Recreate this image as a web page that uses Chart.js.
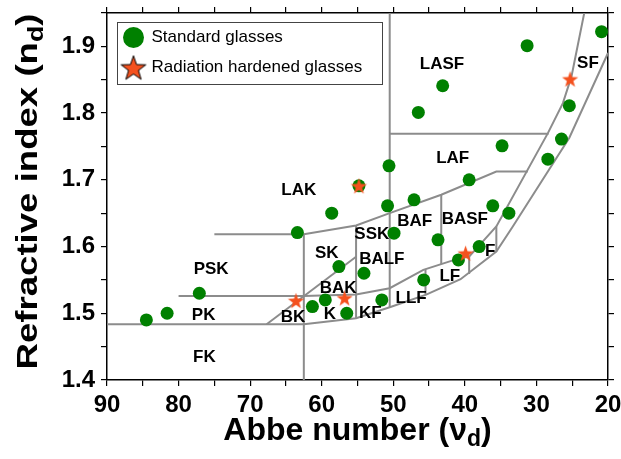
<!DOCTYPE html>
<html>
<head>
<meta charset="utf-8">
<script src="https://cdn.jsdelivr.net/npm/chart.js@4.4.1/dist/chart.umd.min.js"></script>
<style>
  html, body { margin: 0; padding: 0; background: #fff; }
  #wrap { width: 621px; height: 459px; }
</style>
</head>
<body>
<div id="wrap"><canvas id="abbe" width="621" height="459"></canvas></div>
<script>
// Standard glasses: Abbe number and refractive index
const standardAbbe  = [84.5, 81.6, 77.1, 63.4, 58.6, 57.6, 61.3, 59.5, 56.5, 54.8, 50.8, 47.1, 39.4, 49.9, 43.75, 36.1, 33.85, 38.0, 40.9, 45.75, 54.1, 51.6, 31.3, 20.9, 43.1, 46.5, 25.4, 26.5, 28.4, 34.8, 50.6];
const standardIndex = [1.490, 1.500, 1.530, 1.621, 1.650, 1.570, 1.510, 1.520, 1.500, 1.691, 1.661, 1.670, 1.700, 1.620, 1.610, 1.661, 1.650, 1.600, 1.580, 1.550, 1.560, 1.520, 1.901, 1.922, 1.841, 1.801, 1.811, 1.761, 1.731, 1.751, 1.721];

// Radiation hardened glasses
const hardenedAbbe  = [63.6, 56.8, 54.8, 39.9, 25.3];
const hardenedIndex = [1.519, 1.523, 1.691, 1.590, 1.851];

// Glass family names and where they sit on the map
const regionNames = ['LASF', 'SF', 'LAF', 'LAK', 'PSK', 'PK', 'FK', 'BK', 'K', 'BAK', 'SK', 'SSK', 'BALF', 'BAF', 'BASF', 'LF', 'F', 'LLF', 'KF'];
const regionAbbe  = [43.2, 22.8, 41.7, 63.2, 75.45, 76.5, 76.4, 64.0, 58.85, 57.7, 59.3, 53.0, 51.6, 47.0, 40.0, 42.1, 36.45, 47.5, 53.2];
const regionIndex = [1.8725, 1.875, 1.7326, 1.685, 1.566, 1.4975, 1.434, 1.494, 1.4986, 1.5376, 1.590, 1.6176, 1.5815, 1.6375, 1.6415, 1.555, 1.5925, 1.5226, 1.500];

// Family boundaries as [Abbe number, refractive index] vertices
const boundaryLines = [
  [[90, 1.4836], [62.5, 1.4836], [55.2, 1.4926], [50.5, 1.509], [45.4, 1.528], [40.6, 1.551], [35.6, 1.5925], [33.3, 1.630], [25.4, 1.763], [20, 1.890]],
  [[80, 1.526], [62.5, 1.526], [55.2, 1.5283], [50.5, 1.5376], [45.8, 1.565], [40.7, 1.5826], [39.4, 1.585], [35.6, 1.630], [28.4, 1.770], [26.3, 1.815], [25.1, 1.855], [23.3, 1.951]],
  [[67.7, 1.4836], [55.2, 1.5846]],
  [[75, 1.6186], [62.5, 1.6186], [55.2, 1.6315], [50.5, 1.650], [43.3, 1.6776], [35.6, 1.7125], [31.2, 1.7125]],
  [[50.5, 1.769], [28.3, 1.769]],
  [[62.5, 1.6186], [62.5, 1.4]],
  [[55.2, 1.6315], [55.2, 1.4926]],
  [[50.5, 1.95], [50.5, 1.509]],
  [[43.3, 1.6776], [43.3, 1.574]],
  [[45.5, 1.5655], [45.5, 1.5285]],
  [[39.4, 1.585], [39.4, 1.559]],
  [[35.6, 1.630], [35.6, 1.5925]]
];

// Axis ticks
const abbeTicks = [90, 80, 70, 60, 50, 40, 30, 20];
const indexTicks = [1.4, 1.5, 1.6, 1.7, 1.8, 1.9];

const GREEN = 'rgb(0,128,0)';
const ORANGE = '#f4511e';
const GRAY = 'rgb(140,140,140)';
const FONT = '"Liberation Sans", Arial, Helvetica, sans-serif';

function makeStar(outer, fill, stroke) {
  const pad = stroke ? 2 : 1;
  const size = Math.ceil(outer * 2 + pad * 2);
  const c = document.createElement('canvas');
  c.width = size; c.height = size;
  const g = c.getContext('2d');
  const cx = size / 2, cy = size / 2 + outer * 0.1;
  const inner = outer * 0.4;
  g.beginPath();
  for (let i = 0; i < 10; i++) {
    const r = i % 2 === 0 ? outer : inner;
    const a = -Math.PI / 2 + i * Math.PI / 5;
    const x = cx + r * Math.cos(a), y = cy + r * Math.sin(a);
    if (i === 0) g.moveTo(x, y); else g.lineTo(x, y);
  }
  g.closePath();
  g.fillStyle = fill;
  g.fill();
  if (stroke) { g.strokeStyle = stroke; g.lineWidth = 1; g.stroke(); }
  return c;
}

const plotStar = makeStar(8.5, ORANGE, null);
const legendStar = makeStar(13, ORANGE, '#000');

function toPoints(xs, ys) { return xs.map((x, i) => ({ x: x, y: ys[i] })); }

const datasets = [
  {
    label: 'Radiation hardened glasses',
    data: toPoints(hardenedAbbe, hardenedIndex),
    pointStyle: plotStar,
    pointRadius: 8,
    backgroundColor: ORANGE,
    borderColor: ORANGE,
    showLine: false,
    order: 0,
    clip: false
  },
  {
    label: 'Standard glasses',
    data: toPoints(standardAbbe, standardIndex),
    pointStyle: 'circle',
    pointRadius: 6.5,
    pointBorderWidth: 0,
    backgroundColor: GREEN,
    borderColor: GREEN,
    showLine: false,
    order: 1,
    clip: false
  }
];
boundaryLines.forEach(seg => {
  datasets.push({
    label: '',
    data: seg.map(p => ({ x: p[0], y: p[1] })),
    showLine: true,
    borderColor: GRAY,
    borderWidth: 2,
    pointRadius: 0,
    fill: false,
    tension: 0,
    order: 2
  });
});

function drawWithSub(ctx, main, sub, tail, size, stretch) {
  // draws text centred at the origin, baseline at y = 0
  const big = 'bold ' + size + 'px ' + FONT;
  const small = 'bold ' + Math.round(size * 0.72) + 'px ' + FONT;
  ctx.font = big; const w1 = ctx.measureText(main).width; const w3 = ctx.measureText(tail).width;
  ctx.font = small; const w2 = ctx.measureText(sub).width;
  ctx.scale(stretch, 1);
  let x = -(w1 + w2 + w3) / 2;
  ctx.textAlign = 'left'; ctx.textBaseline = 'alphabetic'; ctx.fillStyle = '#000';
  ctx.font = big; ctx.fillText(main, x, 0); x += w1;
  ctx.font = small; ctx.fillText(sub, x, size * 0.2); x += w2;
  ctx.font = big; ctx.fillText(tail, x, 0);
}

const decorations = {
  id: 'decorations',
  afterDatasetsDraw(chart) {
    const ctx = chart.ctx, xs = chart.scales.x, ys = chart.scales.y;
    ctx.save();
    ctx.fillStyle = '#000';
    ctx.font = 'bold 17px ' + FONT;
    ctx.textAlign = 'center';
    ctx.textBaseline = 'middle';
    regionNames.forEach((name, i) => {
      ctx.fillText(name, xs.getPixelForValue(regionAbbe[i]), ys.getPixelForValue(regionIndex[i]));
    });
    ctx.restore();
  },
  afterDraw(chart) {
    const ctx = chart.ctx, area = chart.chartArea;
    ctx.save();
    // legend box
    const lx = area.left + 10.5, ly = area.top + 9.5, lw = 265, lh = 62;
    ctx.fillStyle = '#fff';
    ctx.fillRect(lx, ly, lw, lh);
    ctx.strokeStyle = '#444';
    ctx.lineWidth = 1;
    ctx.strokeRect(lx, ly, lw, lh);
    const std = chart.data.datasets[1], hard = chart.data.datasets[0];
    ctx.beginPath();
    ctx.arc(lx + 16, ly + 15, 10.5, 0, Math.PI * 2);
    ctx.fillStyle = std.backgroundColor;
    ctx.fill();
    ctx.drawImage(legendStar, lx + 16 - legendStar.width / 2, ly + 45 - legendStar.height / 2);
    ctx.fillStyle = '#000';
    ctx.font = '17px ' + FONT;
    ctx.textAlign = 'left';
    ctx.textBaseline = 'middle';
    ctx.fillText(std.label, lx + 34, ly + 15);
    ctx.fillText(hard.label, lx + 34, ly + 45);

    // axis titles
    ctx.save();
    ctx.translate((area.left + area.right) / 2, 440);
    drawWithSub(ctx, 'Abbe number (\u03bd', 'd', ')', 32, 1);
    ctx.restore();
    ctx.save();
    ctx.translate(37, 191.5);
    ctx.rotate(-Math.PI / 2);
    drawWithSub(ctx, 'Refractive index (n', 'd', ')', 30, 1.22);
    ctx.restore();
    ctx.restore();
  }
};

const tickGrid = { display: true, drawOnChartArea: false, drawTicks: true, tickLength: 6, color: '#000', lineWidth: 1.2 };
const axisBorder = { display: true, color: '#000', width: 1.5 };

function fixWidth(w) {
  return s => { s.width = w; s.paddingTop = 0; s.paddingBottom = 0; s.paddingLeft = 0; s.paddingRight = 0; };
}
function fixHeight(h) {
  return s => { s.height = h; s.paddingTop = 0; s.paddingBottom = 0; s.paddingLeft = 0; s.paddingRight = 0; };
}

new Chart(document.getElementById('abbe'), {
  type: 'scatter',
  data: { datasets: datasets },
  options: {
    responsive: false,
    animation: false,
    devicePixelRatio: 1,
    layout: { padding: 0 },
    plugins: { legend: { display: false }, tooltip: { enabled: false } },
    scales: {
      x: {
        type: 'linear', position: 'bottom', reverse: true, min: 20, max: 90,
        ticks: {
          stepSize: 5, autoSkip: false, maxRotation: 0, padding: 5, color: '#000',
          font: { family: FONT, weight: 'bold', size: 24 },
          callback: v => abbeTicks.includes(Math.round(v)) && Math.abs(v - Math.round(v)) < 1e-6 ? String(Math.round(v)) : ''
        },
        grid: tickGrid, border: axisBorder,
        afterFit: fixHeight(79)
      },
      x2: {
        type: 'linear', position: 'top', reverse: true, min: 20, max: 90,
        ticks: { stepSize: 5, display: false },
        grid: tickGrid, border: axisBorder,
        afterFit: fixHeight(13)
      },
      y: {
        type: 'linear', position: 'left', min: 1.4, max: 1.95,
        ticks: {
          stepSize: 0.05, autoSkip: false, padding: 6, color: '#000',
          font: { family: FONT, weight: 'bold', size: 24 },
          callback: v => {
            const r = Math.round(v * 10) / 10;
            return Math.abs(v - r) < 1e-6 && indexTicks.some(t => Math.abs(t - r) < 1e-6) ? r.toFixed(1) : '';
          }
        },
        grid: tickGrid, border: axisBorder,
        afterFit: fixWidth(107)
      },
      y2: {
        type: 'linear', position: 'right', min: 1.4, max: 1.95,
        ticks: { stepSize: 0.05, display: false },
        grid: tickGrid, border: axisBorder,
        afterFit: fixWidth(13)
      }
    }
  },
  plugins: [decorations]
});
</script>
</body>
</html>
